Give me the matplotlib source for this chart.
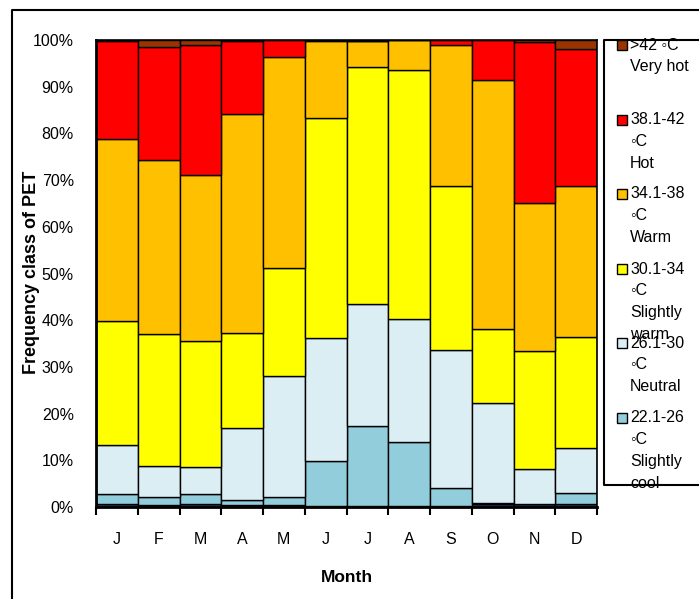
import matplotlib
matplotlib.use("Agg")
import matplotlib.pyplot as plt
from matplotlib import font_manager
import numpy as np
from matplotlib.lines import Line2D
from matplotlib.patches import Rectangle

months = ["J", "F", "M", "A", "M", "J", "J", "A", "S", "O", "N", "D"]
yticklabels = ["0%", "10%", "20%", "30%", "40%", "50%", "60%", "70%", "80%", "90%", "100%"]

# percentages per PET class (bottom to top)
cool          = [0.6, 0.5, 0.6, 0.4, 0.5, 0.3, 0.3, 0.3, 0.3, 0.6, 0.6, 0.6]
slightly_cool = [2.2, 1.6, 2.2, 1.1, 1.7, 9.5, 17.1, 13.6, 3.7, 0.2, 0.1, 2.5]
neutral       = [10.4, 6.75, 5.8, 15.5, 25.8, 26.3, 26.1, 26.4, 29.6, 21.4, 7.4, 9.5]
slightly_warm = [26.6, 28.15, 26.9, 20.2, 23.2, 47.1, 50.8, 53.3, 35.2, 16.0, 25.4, 23.7]
warm          = [39.1, 37.3, 35.5, 47.0, 45.1, 16.6, 5.4, 6.4, 30.1, 53.2, 31.5, 32.5]
hot           = [20.9, 24.1, 28.0, 15.6, 3.6, 0.1, 0.1, 0.0, 1.1, 8.6, 34.6, 29.2]
very_hot      = [0.2, 1.6, 1.0, 0.2, 0.1, 0.1, 0.2, 0.0, 0.0, 0.0, 0.4, 2.0]

series = [cool, slightly_cool, neutral, slightly_warm, warm, hot, very_hot]
colors = ["#1f3f6e", "#92cddc", "#daeef3", "#ffff00", "#ffc000", "#ff0000", "#993300"]

legend_entries = [
    (">42 \u25e6C\nVery hot", "#993300"),
    ("38.1-42\n\u25e6C\nHot", "#ff0000"),
    ("34.1-38\n\u25e6C\nWarm", "#ffc000"),
    ("30.1-34\n\u25e6C\nSlightly\nwarm", "#ffff00"),
    ("26.1-30\n\u25e6C\nNeutral", "#daeef3"),
    ("22.1-26\n\u25e6C\nSlightly\ncool", "#92cddc"),
]

FAM = ["Liberation Sans", "DejaVu Sans"]
plt.rcParams["font.family"] = FAM
names = {f.name for f in font_manager.fontManager.ttflist}
if "Liberation Sans Narrow" in names:
    TFAM = ["Liberation Sans Narrow", "DejaVu Sans"]
    TSIZE = 13
else:
    TFAM = FAM
    TSIZE = 11.5

W, H = 699, 599
fig = plt.figure(figsize=(W / 100, H / 100), dpi=100)

def fx(px):
    return px / W

def fy(py):
    return 1 - py / H

ax = fig.add_axes([fx(96), fy(507), fx(597) - fx(96), fy(40) - fy(507)])

x = np.arange(len(months))
bottom = np.zeros(len(months))
for vals, c in zip(series, colors):
    v = np.array(vals, dtype=float)
    ax.bar(x, v, width=1.0, bottom=bottom, color=c, edgecolor="black", linewidth=1.0)
    bottom += v

ax.set_xlim(-0.5, len(months) - 0.5)
ax.set_ylim(0, 100)
ax.set_yticks(np.arange(0, 101, 10))
ax.set_yticklabels(yticklabels, fontsize=TSIZE, family=TFAM)
ax.tick_params(axis="y", length=0, pad=16)
ax.set_xticks(x)
ax.set_xticklabels(months, fontsize=TSIZE, family=TFAM)
ax.set_xticks(np.arange(-0.5, len(months), 1.0), minor=True)
ax.tick_params(axis="x", which="major", length=0, pad=18)
ax.tick_params(axis="x", which="minor", length=6, width=1.5, direction="out")
for s in ax.spines.values():
    s.set_linewidth(1.2)
    s.set_color("black")
ax.spines["left"].set_linewidth(2)
ax.spines["bottom"].set_linewidth(2)

# axis titles
fig.text(fx(347), fy(577), "Month", ha="center", va="center", fontsize=12.5, weight="bold")
fig.text(fx(31), fy(272), "Frequency class of PET", ha="center", va="center",
         rotation=90, fontsize=13, weight="bold")

# outer border
fig.add_artist(Line2D([fx(12), fx(12), 1.05], [-0.05, fy(10), fy(10)],
                      transform=fig.transFigure, color="black", lw=1.5))

# legend box
fig.add_artist(Line2D([1.05, fx(604), fx(604), 1.05], [fy(40), fy(40), fy(485), fy(485)],
                      transform=fig.transFigure, color="black", lw=1.5))
starts = [45, 120, 194, 269, 343, 418]
line_h = 21.7
for (label, c), y0 in zip(legend_entries, starts):
    fig.add_artist(Rectangle((fx(617), fy(y0 + 5)), fx(10), 10 / H,
                             transform=fig.transFigure, facecolor=c,
                             edgecolor="black", lw=1.0))
    for i, line in enumerate(label.split("\n")):
        fig.text(fx(630), fy(y0 + i * line_h), line, ha="left", va="center",
                 fontsize=11.5, family=FAM)

fig.savefig("out.png", dpi=100)
